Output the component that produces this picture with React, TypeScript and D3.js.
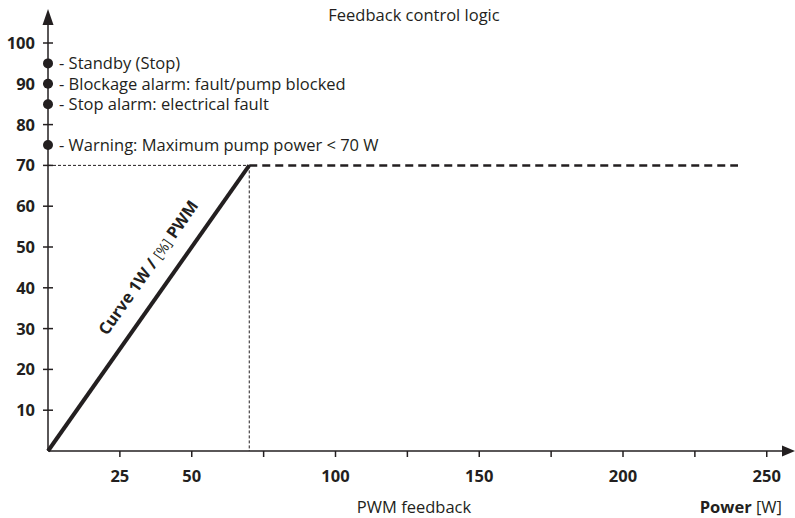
import * as d3 from 'd3'

// data
const xTicks = [25, 50, 75, 100, 125, 150, 175, 200, 225, 250]
const xTickLabels = ['25', '50', '', '100', '', '150', '', '200', '', '250']
const yTicks = [10, 20, 30, 40, 50, 60, 70, 80, 90, 100]
const curveW = [0, 70]
const curvePwm = [0, 70]
const limitW = [70, 240]
const limitPwm = [70, 70]
const statusPwm = [95, 90, 85, 75]
const statusLabels = [
  '- Standby (Stop)',
  '- Blockage alarm: fault/pump blocked',
  '- Stop alarm: electrical fault',
  '- Warning: Maximum pump power < 70 W',
]

const W = 795
const H = 518
const ink = '#231f20'
const font = "'Open Sans', sans-serif"
const fs = 16.5

export default function App() {
  const x = d3.scaleLinear().domain([0, 250]).range([48, 766.75])
  const y = d3.scaleLinear().domain([0, 100]).range([451, 43])

  const toPath = d3.line<[number, number]>().x(d => x(d[0])).y(d => y(d[1]))
  const curvePath = toPath(curveW.map((w, i) => [w, curvePwm[i]] as [number, number]))
  const limitPath = toPath(limitW.map((w, i) => [w, limitPwm[i]] as [number, number]))

  const x0 = x(0)
  const y0 = y(0)
  const kneeX = x(curveW[1])
  const kneeY = y(curvePwm[1])
  const angle = (Math.atan2(kneeY - y0, kneeX - x0) * 180) / Math.PI

  return (
    <svg width={W} height={H} style={{ position: 'absolute', left: 0, top: 0 }} fontFamily={font}>
      <rect width={W} height={H} fill="#fff" />

      {/* reference guides */}
      <line x1={x0} x2={kneeX} y1={kneeY} y2={kneeY} stroke={ink} strokeWidth={1} strokeDasharray="3,2" />
      <line x1={kneeX} x2={kneeX} y1={kneeY} y2={y0} stroke={ink} strokeWidth={1} strokeDasharray="3,2" />

      {/* axes */}
      <line x1={x0} x2={785} y1={y0} y2={y0} stroke={ink} strokeWidth={1.5} />
      <path d={`M795,${y0} L782,${y0 - 5.5} L782,${y0 + 5.5} Z`} fill={ink} />
      <line x1={x0} x2={x0} y1={y0} y2={22} stroke={ink} strokeWidth={1.5} />
      <path d={`M${x0},9 L${x0 - 5.5},25 L${x0 + 5.5},25 Z`} fill={ink} />

      {xTicks.map((t, i) => (
        <g key={t}>
          <line x1={x(t)} x2={x(t)} y1={y0} y2={y0 + 6} stroke={ink} strokeWidth={1.5} />
          <text x={x(t)} y={y0 + 31} textAnchor="middle" fontSize={fs} fontWeight="bold" fill={ink}>
            {xTickLabels[i]}
          </text>
        </g>
      ))}
      {yTicks.map(t => (
        <g key={t}>
          <line x1={x0 - 5} x2={x0 + 5} y1={y(t)} y2={y(t)} stroke={ink} strokeWidth={1.5} />
          <text x={35} y={y(t) + 6} textAnchor="end" fontSize={fs} fontWeight="bold" fill={ink}>
            {t}
          </text>
        </g>
      ))}

      {/* status dots */}
      {statusPwm.map((v, i) => (
        <g key={v}>
          <circle cx={x0} cy={y(v)} r={5} fill={ink} />
          <text x={x0 + 11} y={y(v) + 6} fontSize={fs} fill={ink}>
            {statusLabels[i]}
          </text>
        </g>
      ))}

      {/* curves */}
      <path d={limitPath ?? ''} fill="none" stroke={ink} strokeWidth={2.5} strokeDasharray="8,5" />
      <path d={curvePath ?? ''} fill="none" stroke={ink} strokeWidth={4} />

      <text
        transform={`translate(${153},${271}) rotate(${angle})`}
        textAnchor="middle"
        fontSize={fs}
        fontWeight="bold"
        fill={ink}
      >
        Curve 1W / <tspan fontWeight="normal" fontSize={14}>[%]</tspan> PWM
      </text>

      <text x={414} y={21} textAnchor="middle" fontSize={fs} fill={ink}>
        Feedback control logic
      </text>
      <text x={414} y={513} textAnchor="middle" fontSize={fs} fill={ink}>
        PWM feedback
      </text>
      <text x={782} y={513} textAnchor="end" fontSize={fs} fill={ink}>
        <tspan fontWeight="bold">Power</tspan> [W]
      </text>
    </svg>
  )
}
